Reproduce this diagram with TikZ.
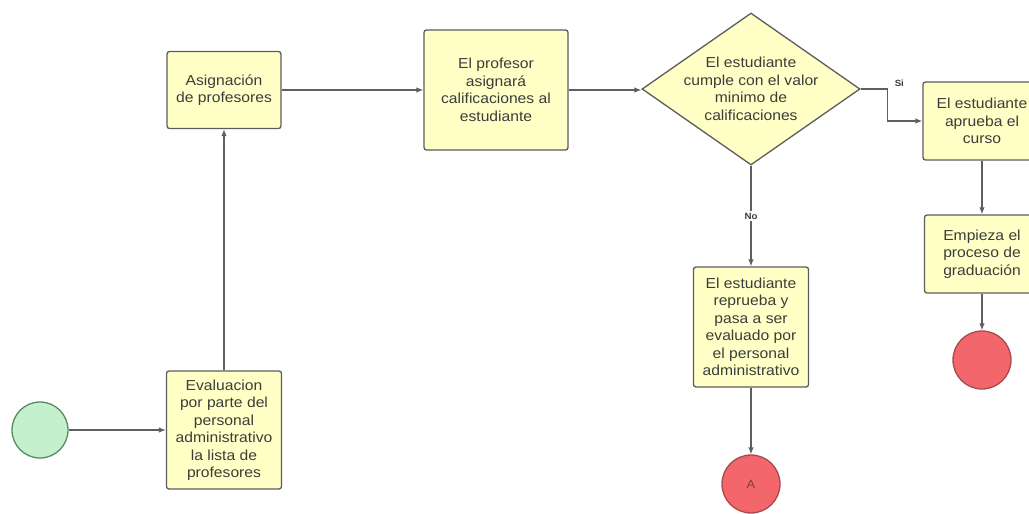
\documentclass[tikz,border=0pt]{standalone}
\usepackage{fontspec}
\setmainfont{Liberation Sans}[FakeStretch=1.08]
\usetikzlibrary{shapes.geometric,arrows.meta}
\definecolor{boxfill}{HTML}{FFFFC6}
\definecolor{boxline}{HTML}{5C5C5C}
\definecolor{boxtext}{HTML}{3C3C3C}
\definecolor{startfill}{HTML}{C4F0CC}
\definecolor{startline}{HTML}{5A8A64}
\definecolor{endfill}{HTML}{F2666C}
\definecolor{endline}{HTML}{A84A4C}
\definecolor{flowgray}{HTML}{5E5E66}

\begin{document}
\begin{tikzpicture}[x=1pt, y=-1pt,
  proc/.style={draw=boxline, fill=boxfill, line width=1.3pt, rounded corners=2.5pt, align=center,
    inner sep=2pt, text=boxtext, font=\fontsize{14.5}{17.5}\selectfont},
  decision/.style={proc, diamond, rounded corners=0pt, inner sep=-20pt},
  startev/.style={circle, draw=startline, fill=startfill, line width=1.3pt, minimum size=56pt, inner sep=0pt},
  endev/.style={circle, draw=endline, fill=endfill, line width=1.3pt, minimum size=58pt, inner sep=0pt,
    text=endline!80!black, font=\fontsize{12}{14}\selectfont},
  flow/.style={draw=flowgray, line width=1.2pt, -{Latex[length=7pt,width=5.5pt]}},
  tag/.style={font=\bfseries\fontsize{9}{10}\selectfont, text=boxtext, inner sep=1.5pt}]

\useasboundingbox (0,0) rectangle (1029,514);

\node[startev] (start) at (40,430) {};
\node[proc, minimum width=115pt, minimum height=118pt] (eval) at (224,430)
  {Evaluacion\\por parte del\\personal\\administrativo\\la lista de\\profesores};
\node[proc, minimum width=114pt, minimum height=77pt] (asig) at (224,90)
  {Asignación\\de profesores};
\node[proc, minimum width=144pt, minimum height=120pt] (prof) at (496,90)
  {El profesor\\asignará\\calificaciones al\\estudiante};
\node[decision, minimum width=218pt, minimum height=152pt] (dec) at (751,89)
  {El estudiante\\cumple con el valor\\minimo de\\calificaciones};
\node[proc, minimum width=118pt, minimum height=78pt] (apr) at (982,121)
  {El estudiante\\aprueba el\\curso};
\node[proc, minimum width=115pt, minimum height=78pt] (grad) at (982,254)
  {Empieza el\\proceso de\\graduación};
\node[endev] (endb) at (982,360) {};
\node[proc, minimum width=115pt, minimum height=120pt] (rep) at (751,327)
  {El estudiante\\reprueba y\\pasa a ser\\evaluado por\\el personal\\administrativo};
\node[endev] (enda) at (751,484) {A};

\draw[flow] (start) -- (eval);
\draw[flow] (eval) -- (asig);
\draw[flow] (asig) -- (prof);
\draw[flow] (prof) -- (prof -| dec.west);
\draw[flow] (dec.east) -- ++(27,0) node[tag, anchor=south west, xshift=5pt] {Si} |- (apr.west);
\draw[flow] (dec) -- node[tag, fill=white] {No} (rep);
\draw[flow] (rep) -- (enda);
\draw[flow] (apr) -- (grad);
\draw[flow] (grad) -- (endb);

\end{tikzpicture}
\end{document}
